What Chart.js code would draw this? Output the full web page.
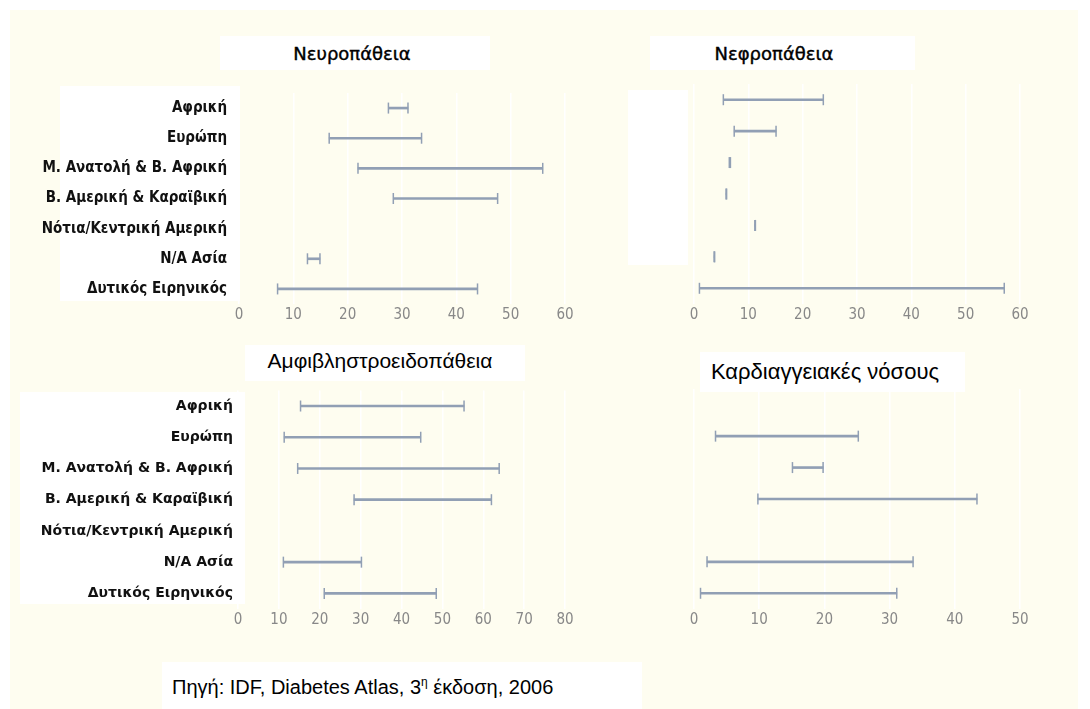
<!DOCTYPE html>
<html>
<head>
<meta charset="utf-8">
<script src="https://cdn.jsdelivr.net/npm/chart.js@4/dist/chart.umd.min.js"></script>
<style>
  body { margin: 0; background: #ffffff; }
  #page { position: relative; width: 1090px; height: 709px; overflow: hidden; background: #ffffff; }
  #cream { position: absolute; left: 10px; top: 10px; width: 1068px; height: 699px; background: #fefdf0; }
  .box { position: absolute; background: #ffffff; }
  .title { position: absolute; color: #000; white-space: nowrap; transform: translate(-50%, -50%); }
  .heavy { -webkit-text-stroke: 0.4px #000; }
  canvas { position: absolute; }
  #footer { position: absolute; left: 172px; top: 675px; font: 20px "Liberation Sans", Arial, sans-serif; color: #000; white-space: nowrap; }
  #footer sup { font-size: 12px; }
</style>
</head>
<body>
<div id="page">
  <div id="cream"></div>
  <!-- λευκά κουτιά πίσω από τίτλους και ετικέτες -->
  <div class="box" style="left:220px;top:36px;width:270px;height:34px"></div>
  <div class="box" style="left:650px;top:36px;width:265px;height:34px"></div>
  <div class="box" style="left:60px;top:86px;width:180px;height:215px"></div>
  <div class="box" style="left:628px;top:90px;width:60px;height:175px"></div>
  <div class="box" style="left:245px;top:345px;width:280px;height:36px"></div>
  <div class="box" style="left:700px;top:352px;width:265px;height:40px"></div>
  <div class="box" style="left:20px;top:392px;width:225px;height:212px"></div>
  <div class="box" style="left:162px;top:662px;width:480px;height:47px"></div>

  <div class="title heavy" style="left:352px;top:53px;font:18px 'DejaVu Sans',sans-serif">Νευροπάθεια</div>
  <div class="title heavy" style="left:774px;top:53px;font:18px 'DejaVu Sans',sans-serif">Νεφροπάθεια</div>
  <div class="title" style="left:380px;top:361px;font:21px 'Liberation Sans',Arial,sans-serif">Αμφιβληστροειδοπάθεια</div>
  <div class="title" style="left:825px;top:372px;font:22px 'Liberation Sans',Arial,sans-serif">Καρδιαγγειακές νόσους</div>

  <canvas id="neuro" style="left:20px;top:80px" width="557" height="246"></canvas>
  <canvas id="nephro" style="left:660px;top:80px" width="372" height="246"></canvas>
  <canvas id="retino" style="left:10px;top:385px" width="567" height="246"></canvas>
  <canvas id="cardio" style="left:660px;top:385px" width="372" height="246"></canvas>

  <div id="footer">Πηγή: IDF, Diabetes Atlas, 3<sup>η</sup> έκδοση, 2006</div>
</div>

<script>
const regions = ['Αφρική', 'Ευρώπη', 'Μ. Ανατολή & Β. Αφρική', 'Β. Αμερική & Καραϊβική', 'Νότια/Κεντρική Αμερική', 'Ν/Α Ασία', 'Δυτικός Ειρηνικός'];

// Νευροπάθεια (%)
const neuroLow  = [27.5, 16.6, 21.9, 28.4, null, 12.6, 7.1];
const neuroHigh = [31.1, 33.6, 55.9, 47.6, null, 14.9, 43.9];
// Νεφροπάθεια (%)
const nephroLow  = [5.4, 7.4, 6.5, 5.9, 11.2, 3.7, 1.0];
const nephroHigh = [23.8, 15.1, 6.7, 6.0, 11.3, 3.8, 57.1];
// Αμφιβληστροειδοπάθεια (%)
const retinoLow  = [15.3, 11.3, 14.6, 28.4, null, 11.1, 21.1];
const retinoHigh = [55.3, 44.7, 63.9, 62.0, null, 30.2, 48.5];
// Καρδιαγγειακές νόσους (%)
const cardioLow  = [null, 3.3, 15.1, 9.8, null, 2.0, 1.0];
const cardioHigh = [null, 25.2, 19.8, 43.4, null, 33.6, 31.1];

const xMax = { neuro: 60, nephro: 60, retino: 80, cardio: 50 };

const barColor = '#919fb4';

// σχεδιάζει τα κάθετα "καπάκια" στα άκρα κάθε εύρους
const capsPlugin = {
    id: 'caps',
    afterDatasetsDraw(chart) {
        const ctx = chart.ctx;
        const meta = chart.getDatasetMeta(0);
        ctx.save();
        ctx.strokeStyle = barColor;
        ctx.lineWidth = 1.5;
        meta.data.forEach((bar, i) => {
            if (chart.data.datasets[0].data[i] == null) return;
            [bar.base, bar.x].forEach(px => {
                ctx.beginPath();
                ctx.moveTo(px, bar.y - 5.5);
                ctx.lineTo(px, bar.y + 5.5);
                ctx.stroke();
            });
        });
        ctx.restore();
    }
};

function makeChart(id, low, high, max, yWidth, labelFont, labelPad) {
    const ranges = low.map((v, i) => v == null ? null : [v, high[i]]);
    return new Chart(document.getElementById(id), {
        type: 'bar',
        data: {
            labels: regions,
            datasets: [{
                data: ranges,
                backgroundColor: barColor,
                barThickness: 2,
                borderWidth: 0
            }]
        },
        options: {
            indexAxis: 'y',
            responsive: false,
            animation: false,
            layout: { padding: { top: 4, right: 12, left: 0, bottom: 0 } },
            plugins: { legend: { display: false }, tooltip: { enabled: false } },
            scales: {
                x: {
                    min: 0,
                    max: max,
                    ticks: {
                        stepSize: 10,
                        color: '#888888',
                        padding: 2,
                        font: { family: "'DejaVu Sans Condensed', sans-serif", size: 15 }
                    },
                    grid: { color: '#ffffff', lineWidth: 1.5, drawTicks: false },
                    border: { display: false },
                    afterFit: s => { s.height = 22; }
                },
                y: {
                    ticks: {
                        display: labelFont != null,
                        color: '#111111',
                        padding: labelPad,
                        font: labelFont || {}
                    },
                    grid: { display: false },
                    border: { display: false },
                    afterFit: s => { s.width = yWidth; }
                }
            }
        },
        plugins: [capsPlugin]
    });
}

const topLabelFont = { family: "'DejaVu Sans Condensed', sans-serif", size: 15, weight: 'bold' };
const bottomLabelFont = { family: "'DejaVu Sans', sans-serif", size: 14, weight: 'bold' };

makeChart('neuro', neuroLow, neuroHigh, xMax.neuro, 219, topLabelFont, 4);
makeChart('nephro', nephroLow, nephroHigh, xMax.nephro, 34, null, 0);
makeChart('retino', retinoLow, retinoHigh, xMax.retino, 228, bottomLabelFont, -3);
makeChart('cardio', cardioLow, cardioHigh, xMax.cardio, 34, null, 0);
</script>
</body>
</html>
